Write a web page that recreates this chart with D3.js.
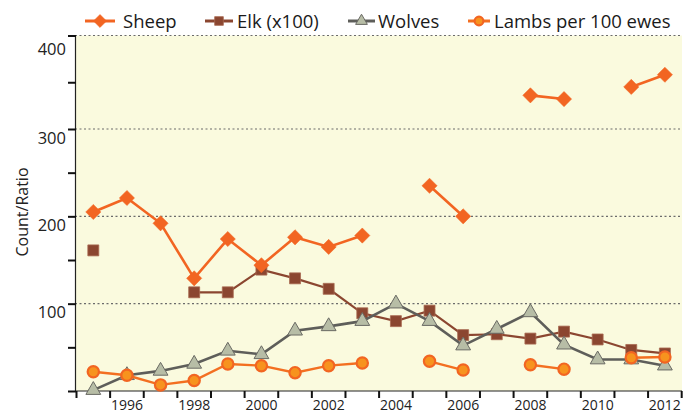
<html>
<head>
<meta charset="UTF-8">
<title>Sheep, Elk, Wolves</title>
<script src="https://d3js.org/d3.v7.min.js"></script>
<style>
  body { margin: 0; background: #fff; }
  svg { display: block; font-family: "Open Sans", sans-serif; }
</style>
</head>
<body>
<script type="text/javascript">
var years = d3.range(1995, 2013);
// null = no survey that year
var sheep  = [205, 221, 192, 129, 174, 144, 176, 165, 178, null, 235, 200, null, 336, 332, null, 345, 358];
var elk    = [161, null, null, 113, 113, 139, 129, 117, 89, 80, 92, 64, 65, 60, 68, 59, 47, 43];
var wolves = [1, 18, 23, 31, 46, 42, 69, 74, 80, 100, 80, 52, 71, 90, 53, 36, 36, 29];
var lambs  = [22, 18, 7, 12, 31, 29, 21, 29, 32, null, 34, 24, null, 30, 25, null, 38, 39];
var yTicks = [0, 50, 100, 150, 200, 250, 300, 350, 400];
var yLabels = [100, 200, 300, 400];

var width = 694, height = 412;
var plotL = 75, plotR = 682, plotT = 35.5, plotB = 391;

var svg = d3.select("body").append("svg")
  .attr("width", width).attr("height", height);

var x = d3.scaleBand().domain(years).range([76.5, 681.7]).padding(0);
var bw = x.bandwidth();
var cx = function(yr){ return x(yr) + bw / 2; };
// the printed axis is slightly stretched above 300
var y = d3.scaleLinear().domain([0, 300, 400]).range([plotB, 129, plotT]);

// plot background
svg.append("rect")
  .attr("x", plotL).attr("y", plotT)
  .attr("width", plotR - plotL).attr("height", plotB - plotT)
  .attr("fill", "#fafade");

// dotted grid
svg.selectAll("line.grid").data(yLabels).enter().append("line")
  .attr("class", "grid")
  .attr("x1", plotL).attr("x2", plotR)
  .attr("y1", function(d){ return y(d); })
  .attr("y2", function(d){ return y(d); })
  .attr("stroke", "#6b6b6b").attr("stroke-width", 1.2)
  .attr("stroke-dasharray", "2,2.5");

// y axis
var yAxis = svg.append("g").attr("transform", "translate(" + plotL + ",0)")
  .call(d3.axisLeft(y).tickValues(yTicks).tickSize(6).tickSizeOuter(0)
    .tickFormat(function(d){ return yLabels.indexOf(d) >= 0 ? d : ""; }));
yAxis.select(".domain").attr("stroke", "#222").attr("stroke-width", 1.2);
yAxis.selectAll(".tick line").attr("stroke", "#111").attr("stroke-width", 2).attr("x2", -7).attr("x1", 1);
yAxis.selectAll(".tick text").attr("font-size", 16.5).attr("fill", "#222")
  .attr("x", -9).attr("dy", function(d){ return d === 400 ? "1.15em" : "0.85em"; })
  .attr("font-family", "Open Sans");

svg.append("text")
  .attr("transform", "translate(28,212) rotate(-90)")
  .attr("text-anchor", "middle")
  .attr("font-size", 16).attr("fill", "#222")
  .text("Count/Ratio");

// x axis
svg.append("line")
  .attr("x1", plotL).attr("x2", plotR)
  .attr("y1", plotB).attr("y2", plotB)
  .attr("stroke", "#222").attr("stroke-width", 1.2);
var bounds = years.map(function(yr){ return x(yr); }).concat([x(2012) + bw]);
svg.selectAll("line.xt").data(bounds).enter().append("line")
  .attr("class", "xt")
  .attr("x1", function(d){ return d; }).attr("x2", function(d){ return d; })
  .attr("y1", plotB).attr("y2", plotB + 7)
  .attr("stroke", "#111").attr("stroke-width", 2);
svg.selectAll("text.xl").data(years.filter(function(yr){ return yr % 2 === 0; }))
  .enter().append("text")
  .attr("class", "xl")
  .attr("x", function(d){ return cx(d); })
  .attr("y", 409.5)
  .attr("text-anchor", "middle")
  .attr("font-size", 14).attr("fill", "#222")
  .text(function(d){ return d; });

var series = [
  { name: "Elk (x100)", values: elk, line: "#8b4630", lw: 2.2, shape: d3.symbolSquare, size: 120, fill: "#8b4630", stroke: "#a86a50", sw: 0.8, rot: 0 },
  { name: "Wolves", values: wolves, line: "#5e5e5a", lw: 2.6, shape: d3.symbolTriangle, size: 95, fill: "#b7bda6", stroke: "#6a6a64", sw: 1, rot: 0 },
  { name: "Lambs per 100 ewes", values: lambs, line: "#f36f21", lw: 2.4, shape: d3.symbolCircle, size: 100, fill: "#f7931e", stroke: "#f26522", sw: 2.2, rot: 0 },
  { name: "Sheep", values: sheep, line: "#f26522", lw: 2.6, shape: d3.symbolSquare, size: 115, fill: "#f26522", stroke: "#f26522", sw: 0.5, rot: 45 }
];

series.forEach(function(s){
  var pts = years.map(function(yr, i){ return { yr: yr, v: s.values[i] }; });
  var line = d3.line()
    .defined(function(d){ return d.v !== null; })
    .x(function(d){ return cx(d.yr); })
    .y(function(d){ return y(d.v); });
  svg.append("path").datum(pts)
    .attr("d", line)
    .attr("fill", "none")
    .attr("stroke", s.line).attr("stroke-width", s.lw);
  svg.append("g").selectAll("path").data(pts.filter(function(d){ return d.v !== null; }))
    .enter().append("path")
    .attr("transform", function(d){ return "translate(" + cx(d.yr) + "," + y(d.v) + ") rotate(" + s.rot + ")"; })
    .attr("d", d3.symbol().type(s.shape).size(s.size))
    .attr("fill", s.fill).attr("stroke", s.stroke).attr("stroke-width", s.sw);
});

// legend
var legend = [
  { s: series[3], x0: 85, x1: 115, tx: 123, size: 85 },
  { s: series[0], x0: 205, x1: 233, tx: 237, size: 75 },
  { s: series[1], x0: 348, x1: 375, tx: 378, size: 60 },
  { s: series[2], x0: 468, x1: 490, tx: 494, size: 60 }
];
legend.forEach(function(l){
  var g = svg.append("g");
  g.append("line")
    .attr("x1", l.x0).attr("x2", l.x1).attr("y1", 21).attr("y2", 21)
    .attr("stroke", l.s.line).attr("stroke-width", 3);
  g.append("path")
    .attr("transform", "translate(" + ((l.x0 + l.x1) / 2) + ",21) rotate(" + l.s.rot + ")")
    .attr("d", d3.symbol().type(l.s.shape).size(l.size))
    .attr("fill", l.s.fill).attr("stroke", l.s.stroke).attr("stroke-width", l.s.sw);
  g.append("text")
    .attr("x", l.tx).attr("y", 28)
    .attr("font-size", 18.5).attr("fill", "#1a1a1a")
    .text(l.s.name);
});
</script>
</body>
</html>
